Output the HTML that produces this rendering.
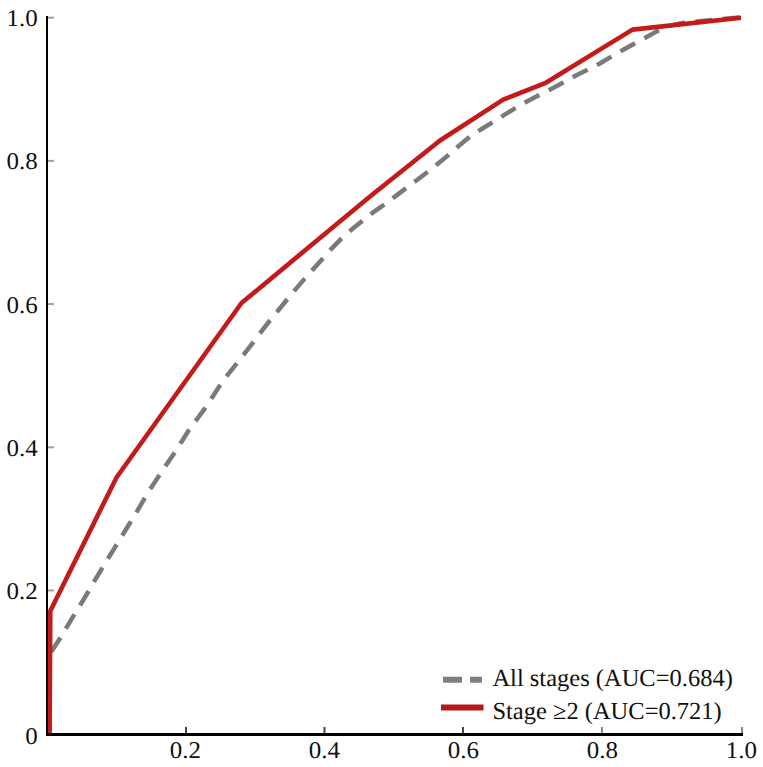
<!DOCTYPE html>
<html><head><meta charset="utf-8">
<style>
html,body{margin:0;padding:0;background:#fff;width:763px;height:767px;overflow:hidden}
svg{position:absolute;left:0;top:0}
text{font-family:"Liberation Serif",serif;fill:#111;text-rendering:geometricPrecision}
</style></head><body>
<svg width="763" height="767" viewBox="0 0 763 767">
<!-- y ticks -->
<g stroke="#a0a0a0" stroke-width="2">
<line x1="48" y1="17.7" x2="54" y2="17.7"/>
<line x1="48" y1="160.9" x2="54" y2="160.9"/>
<line x1="48" y1="304.1" x2="54" y2="304.1"/>
<line x1="48" y1="447.3" x2="54" y2="447.3"/>
<line x1="48" y1="590.5" x2="54" y2="590.5"/>
</g>
<!-- x ticks -->
<g stroke="#444" stroke-width="2">
<line x1="186" y1="727" x2="186" y2="734"/>
<line x1="324.5" y1="727" x2="324.5" y2="734"/>
<line x1="463" y1="727" x2="463" y2="734"/>
<line x1="602" y1="727" x2="602" y2="734" stroke="#888"/>
<line x1="742" y1="727" x2="742" y2="734" stroke="#888"/>
</g>
<!-- grey dashed curve -->
<polyline fill="none" stroke="#7a7a7a" stroke-width="4.5" stroke-dasharray="16.7 10.5" stroke-dashoffset="-5.5" stroke-linejoin="round"
 points="48.0,656.0 53.1,649.0 59.6,639.0 66.5,627.6 73.5,615.9 80.8,604.1 87.8,592.5 94.5,580.9 101.3,569.6 108.4,558.0 115.7,546.1 123.0,534.2 130.1,522.8 137.3,510.9 144.3,498.8 151.3,487.4 158.7,476.2 166.4,464.7 174.0,453.5 181.2,442.2 188.5,430.7 196.7,419.5 204.9,408.4 212.4,397.0 219.9,385.6 227.9,374.6 236.2,364.1 244.4,353.6 252.6,343.1 260.9,332.1 269.5,321.0 278.4,310.2 287.1,299.5 295.9,288.9 304.7,278.6 313.8,268.4 323.1,258.1 332.1,248.1 341.4,238.6 351.6,229.6 361.9,221.2 372.4,212.9 383.8,204.8 394.8,196.6 405.5,188.6 416.3,180.5 427.2,172.2 437.8,163.7 448.5,154.9 458.9,145.8 469.6,137.0 480.9,129.5 492.4,122.4 503.9,115.2 515.4,108.1 526.9,101.5 538.8,95.2 551.2,89.0 563.3,82.6 575.4,75.8 587.7,69.7 599.8,63.5 611.5,56.6 623.3,49.8 635.1,43.2 645.8,37.5 656.9,31.3 670.0,25.6 683.8,22.8 696.8,21.5 714.2,19.8 741.0,17.4"/>
<!-- red curve -->
<polyline fill="none" stroke="#c41a1a" stroke-width="4.6" stroke-linejoin="round"
 points="49.6,734 50.3,611 116.5,477.5 241.5,303 370,196.5 440,140.5 503.2,99.6 545,83.2 632.5,29.6 741,17.8"/>
<!-- axes -->
<rect x="46" y="16" width="2" height="720" fill="#000"/>
<rect x="46" y="733" width="697" height="3" fill="#000"/>
<!-- y labels -->
<g font-size="24" text-anchor="end">
<text transform="translate(37.7,26.2) scale(1.04,1)">1.0</text>
<text transform="translate(37.7,169.4) scale(1.04,1)">0.8</text>
<text transform="translate(37.7,312.6) scale(1.04,1)">0.6</text>
<text transform="translate(37.7,455.8) scale(1.04,1)">0.4</text>
<text transform="translate(37.7,599.0) scale(1.04,1)">0.2</text>
<text transform="translate(37.7,744.4) scale(1.04,1)">0</text>
</g>
<g font-size="24" text-anchor="middle">
<text transform="translate(185.4,757.7) scale(1.04,1)">0.2</text>
<text transform="translate(324.4,757.7) scale(1.04,1)">0.4</text>
<text transform="translate(463.4,757.7) scale(1.04,1)">0.6</text>
<text transform="translate(602.4,757.7) scale(1.04,1)">0.8</text>
<text transform="translate(741.4,757.7) scale(1.04,1)">1.0</text>
</g>
<!-- legend -->
<line x1="443" y1="679.8" x2="482" y2="679.8" stroke="#7f7f7f" stroke-width="6" stroke-dasharray="19 8"/>
<line x1="441" y1="707.6" x2="483.5" y2="707.6" stroke="#b81818" stroke-width="6"/>
<g font-size="24.5">
<text x="492.4" y="685.7">All stages (AUC=0.684)</text>
<text x="492.4" y="719.2">Stage ≥2 (AUC=0.721)</text>
</g>
</svg>
</body></html>
